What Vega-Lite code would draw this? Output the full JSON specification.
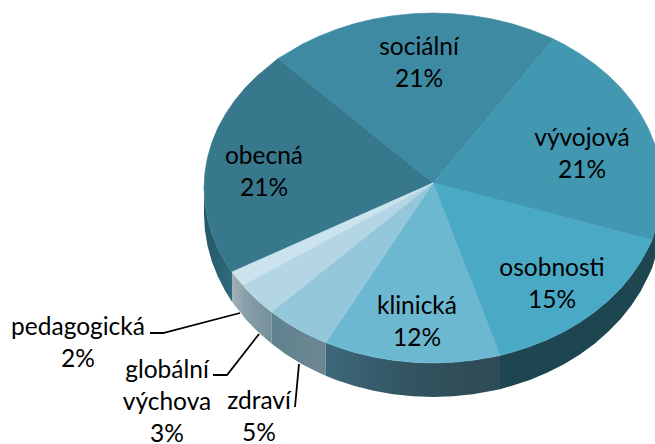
{"$schema":"https://vega.github.io/schema/vega-lite/v6.json","width":655,"height":444,"padding":0,"autosize":{"type":"none"},"background":"white","view":{"stroke":null},
"datasets":{
"wall":[
{"slice":"vývojová","x":229,"y":0,"y2":-26},{"slice":"vývojová","x":228.1,"y":-15.3,"y2":-42},{"slice":"vývojová","x":225.5,"y":-30.4,"y2":-57.8},{"slice":"vývojová","x":221.2,"y":-45.3,"y2":-73.3},{"slice":"vývojová","x":219,"y":-52,"y2":-80.3},
{"slice":"osobnosti","x":219,"y":-52,"y2":-80.3},{"slice":"osobnosti","x":215.2,"y":-59.9,"y2":-88.6},{"slice":"osobnosti","x":207.5,"y":-74,"y2":-103.4},{"slice":"osobnosti","x":198.3,"y":-87.5,"y2":-117.5},{"slice":"osobnosti","x":187.6,"y":-100.4,"y2":-131},{"slice":"osobnosti","x":175.4,"y":-112.5,"y2":-143.6},{"slice":"osobnosti","x":161.9,"y":-123.7,"y2":-155.4},{"slice":"osobnosti","x":147.2,"y":-134.1,"y2":-166.2},{"slice":"osobnosti","x":131.4,"y":-143.4,"y2":-176},{"slice":"osobnosti","x":114.5,"y":-151.6,"y2":-184.6},{"slice":"osobnosti","x":96.8,"y":-158.6,"y2":-191.9},{"slice":"osobnosti","x":78.3,"y":-164.4,"y2":-197.9},{"slice":"osobnosti","x":67,"y":-167.5,"y2":-201.3},
{"slice":"klinická","x":67,"y":-167.5,"y2":-201.3},{"slice":"klinická","x":59.3,"y":-169,"y2":-202.7},{"slice":"klinická","x":39.8,"y":-172.3,"y2":-206.2},{"slice":"klinická","x":20,"y":-174.3,"y2":-208.3},{"slice":"klinická","x":0,"y":-175,"y2":-209},{"slice":"klinická","x":-20,"y":-174.3,"y2":-208.3},{"slice":"klinická","x":-39.8,"y":-172.3,"y2":-206.2},{"slice":"klinická","x":-59.3,"y":-169,"y2":-202.7},{"slice":"klinická","x":-78.3,"y":-164.4,"y2":-197.9},{"slice":"klinická","x":-96.8,"y":-158.6,"y2":-191.9},{"slice":"klinická","x":-107.3,"y":-154.6,"y2":-187.7},
{"slice":"zdraví","x":-107.3,"y":-154.6,"y2":-187.7},{"slice":"zdraví","x":-114.5,"y":-151.6,"y2":-184.6},{"slice":"zdraví","x":-131.4,"y":-143.4,"y2":-176},{"slice":"zdraví","x":-147.2,"y":-134.1,"y2":-166.2},{"slice":"zdraví","x":-161.6,"y":-123.9,"y2":-155.6},
{"slice":"globální výchova","x":-161.6,"y":-123.9,"y2":-155.6},{"slice":"globální výchova","x":-175.4,"y":-112.5,"y2":-143.6},{"slice":"globální výchova","x":-187.6,"y":-100.4,"y2":-131},{"slice":"globální výchova","x":-190,"y":-97,"y2":-127.6},
{"slice":"pedagogická","x":-190,"y":-97,"y2":-127.6},{"slice":"pedagogická","x":-198.3,"y":-87.5,"y2":-117.5},{"slice":"pedagogická","x":-201,"y":-84,"y2":-113.8},
{"slice":"obecná","x":-201,"y":-84,"y2":-113.8},{"slice":"obecná","x":-207.5,"y":-74,"y2":-103.4},{"slice":"obecná","x":-215.2,"y":-59.9,"y2":-88.6},{"slice":"obecná","x":-221.2,"y":-45.3,"y2":-73.3},{"slice":"obecná","x":-225.5,"y":-30.4,"y2":-57.8},{"slice":"obecná","x":-228.1,"y":-15.3,"y2":-42},{"slice":"obecná","x":-229,"y":0,"y2":-26}
],
"top":[
{"slice":"obecná","seq":0,"x":0,"y":5},{"slice":"obecná","seq":1,"x":-201,"y":-84},{"slice":"obecná","seq":2,"x":-207.5,"y":-74},{"slice":"obecná","seq":3,"x":-215.2,"y":-59.9},{"slice":"obecná","seq":4,"x":-221.2,"y":-45.3},{"slice":"obecná","seq":5,"x":-225.5,"y":-30.4},{"slice":"obecná","seq":6,"x":-228.1,"y":-15.3},{"slice":"obecná","seq":7,"x":-229,"y":0},{"slice":"obecná","seq":8,"x":-228.1,"y":15.3},{"slice":"obecná","seq":9,"x":-225.5,"y":30.4},{"slice":"obecná","seq":10,"x":-221.2,"y":45.3},{"slice":"obecná","seq":11,"x":-215.2,"y":59.9},{"slice":"obecná","seq":12,"x":-207.5,"y":74},{"slice":"obecná","seq":13,"x":-198.3,"y":87.5},{"slice":"obecná","seq":14,"x":-187.6,"y":100.4},{"slice":"obecná","seq":15,"x":-175.4,"y":112.5},{"slice":"obecná","seq":16,"x":-161.9,"y":123.7},{"slice":"obecná","seq":17,"x":-155,"y":129.5},{"slice":"obecná","seq":18,"x":0,"y":5},
{"slice":"sociální","seq":0,"x":0,"y":5},{"slice":"sociální","seq":1,"x":-155,"y":129.5},{"slice":"sociální","seq":2,"x":-147.2,"y":134.1},{"slice":"sociální","seq":3,"x":-131.4,"y":143.4},{"slice":"sociální","seq":4,"x":-114.5,"y":151.6},{"slice":"sociální","seq":5,"x":-96.8,"y":158.6},{"slice":"sociální","seq":6,"x":-78.3,"y":164.4},{"slice":"sociální","seq":7,"x":-59.3,"y":169},{"slice":"sociální","seq":8,"x":-39.8,"y":172.3},{"slice":"sociální","seq":9,"x":-20,"y":174.3},{"slice":"sociální","seq":10,"x":0,"y":175},{"slice":"sociální","seq":11,"x":20,"y":174.3},{"slice":"sociální","seq":12,"x":39.8,"y":172.3},{"slice":"sociální","seq":13,"x":59.3,"y":169},{"slice":"sociální","seq":14,"x":78.3,"y":164.4},{"slice":"sociální","seq":15,"x":96.8,"y":158.6},{"slice":"sociální","seq":16,"x":114.5,"y":151.6},{"slice":"sociální","seq":17,"x":120.5,"y":149},{"slice":"sociální","seq":18,"x":0,"y":5},
{"slice":"vývojová","seq":0,"x":0,"y":5},{"slice":"vývojová","seq":1,"x":120.5,"y":149},{"slice":"vývojová","seq":2,"x":131.4,"y":143.4},{"slice":"vývojová","seq":3,"x":147.2,"y":134.1},{"slice":"vývojová","seq":4,"x":161.9,"y":123.7},{"slice":"vývojová","seq":5,"x":175.4,"y":112.5},{"slice":"vývojová","seq":6,"x":187.6,"y":100.4},{"slice":"vývojová","seq":7,"x":198.3,"y":87.5},{"slice":"vývojová","seq":8,"x":207.5,"y":74},{"slice":"vývojová","seq":9,"x":215.2,"y":59.9},{"slice":"vývojová","seq":10,"x":221.2,"y":45.3},{"slice":"vývojová","seq":11,"x":225.5,"y":30.4},{"slice":"vývojová","seq":12,"x":228.1,"y":15.3},{"slice":"vývojová","seq":13,"x":229,"y":0},{"slice":"vývojová","seq":14,"x":228.1,"y":-15.3},{"slice":"vývojová","seq":15,"x":225.5,"y":-30.4},{"slice":"vývojová","seq":16,"x":221.2,"y":-45.3},{"slice":"vývojová","seq":17,"x":219,"y":-52},{"slice":"vývojová","seq":18,"x":0,"y":5},
{"slice":"osobnosti","seq":0,"x":0,"y":5},{"slice":"osobnosti","seq":1,"x":219,"y":-52},{"slice":"osobnosti","seq":2,"x":215.2,"y":-59.9},{"slice":"osobnosti","seq":3,"x":207.5,"y":-74},{"slice":"osobnosti","seq":4,"x":198.3,"y":-87.5},{"slice":"osobnosti","seq":5,"x":187.6,"y":-100.4},{"slice":"osobnosti","seq":6,"x":175.4,"y":-112.5},{"slice":"osobnosti","seq":7,"x":161.9,"y":-123.7},{"slice":"osobnosti","seq":8,"x":147.2,"y":-134.1},{"slice":"osobnosti","seq":9,"x":131.4,"y":-143.4},{"slice":"osobnosti","seq":10,"x":114.5,"y":-151.6},{"slice":"osobnosti","seq":11,"x":96.8,"y":-158.6},{"slice":"osobnosti","seq":12,"x":78.3,"y":-164.4},{"slice":"osobnosti","seq":13,"x":67,"y":-167.5},{"slice":"osobnosti","seq":14,"x":0,"y":5},
{"slice":"klinická","seq":0,"x":0,"y":5},{"slice":"klinická","seq":1,"x":67,"y":-167.5},{"slice":"klinická","seq":2,"x":59.3,"y":-169},{"slice":"klinická","seq":3,"x":39.8,"y":-172.3},{"slice":"klinická","seq":4,"x":20,"y":-174.3},{"slice":"klinická","seq":5,"x":0,"y":-175},{"slice":"klinická","seq":6,"x":-20,"y":-174.3},{"slice":"klinická","seq":7,"x":-39.8,"y":-172.3},{"slice":"klinická","seq":8,"x":-59.3,"y":-169},{"slice":"klinická","seq":9,"x":-78.3,"y":-164.4},{"slice":"klinická","seq":10,"x":-96.8,"y":-158.6},{"slice":"klinická","seq":11,"x":-107.3,"y":-154.6},{"slice":"klinická","seq":12,"x":0,"y":5},
{"slice":"zdraví","seq":0,"x":0,"y":5},{"slice":"zdraví","seq":1,"x":-107.3,"y":-154.6},{"slice":"zdraví","seq":2,"x":-114.5,"y":-151.6},{"slice":"zdraví","seq":3,"x":-131.4,"y":-143.4},{"slice":"zdraví","seq":4,"x":-147.2,"y":-134.1},{"slice":"zdraví","seq":5,"x":-161.6,"y":-123.9},{"slice":"zdraví","seq":6,"x":0,"y":5},
{"slice":"globální výchova","seq":0,"x":0,"y":5},{"slice":"globální výchova","seq":1,"x":-161.6,"y":-123.9},{"slice":"globální výchova","seq":2,"x":-175.4,"y":-112.5},{"slice":"globální výchova","seq":3,"x":-187.6,"y":-100.4},{"slice":"globální výchova","seq":4,"x":-190,"y":-97},{"slice":"globální výchova","seq":5,"x":0,"y":5},
{"slice":"pedagogická","seq":0,"x":0,"y":5},{"slice":"pedagogická","seq":1,"x":-190,"y":-97},{"slice":"pedagogická","seq":2,"x":-198.3,"y":-87.5},{"slice":"pedagogická","seq":3,"x":-201,"y":-84},{"slice":"pedagogická","seq":4,"x":0,"y":5}
],
"leaders":[
{"slice":"pedagogická","seq":0,"x":-283,"y":-145},{"slice":"pedagogická","seq":1,"x":-270,"y":-145},{"slice":"pedagogická","seq":2,"x":-193,"y":-125},
{"slice":"globální výchova","seq":0,"x":-220,"y":-187},{"slice":"globální výchova","seq":1,"x":-206,"y":-187},{"slice":"globální výchova","seq":2,"x":-174,"y":-146},
{"slice":"zdraví","seq":0,"x":-138,"y":-219},{"slice":"zdraví","seq":1,"x":-134,"y":-176}
],
"labels":[
{"slice":"obecná","share":21,"label":["obecná","21%"],"x":-169,"y":31.5},
{"slice":"sociální","share":21,"label":["sociální","21%"],"x":-14,"y":140},
{"slice":"vývojová","share":21,"label":["vývojová","21%"],"x":149,"y":49},
{"slice":"osobnosti","share":15,"label":["osobnosti","15%"],"x":119,"y":-81},
{"slice":"klinická","share":12,"label":["klinická","12%"],"x":-16,"y":-118.5},
{"slice":"zdraví","share":5,"label":["zdraví","5%"],"x":-174,"y":-214},
{"slice":"globální výchova","share":3,"label":["globální","výchova","3%"],"x":-266,"y":-183},
{"slice":"pedagogická","share":2,"label":["pedagogická","2%"],"x":-355,"y":-140}
]},
"encoding":{
"x":{"field":"x","type":"quantitative","axis":null,"scale":{"domain":[-433,222]}},
"y":{"field":"y","type":"quantitative","axis":null,"scale":{"domain":[-256,188]}}
},
"layer":[
{"data":{"name":"wall"},"transform":[{"filter":"datum.slice==='obecná'"}],"mark":{"type":"area","clip":true,"fill":{"gradient":"linear","x1":0,"y1":0,"x2":1,"y2":0,"stops":[{"offset":0,"color":"#245868"},{"offset":1,"color":"#2F6B7E"}]}},"encoding":{"y2":{"field":"y2"}}},
{"data":{"name":"wall"},"transform":[{"filter":"datum.slice==='pedagogická'"}],"mark":{"type":"area","clip":true,"fill":{"gradient":"linear","x1":0,"y1":0,"x2":1,"y2":0,"stops":[{"offset":0,"color":"#A3B0B7"},{"offset":1,"color":"#90A3AC"}]}},"encoding":{"y2":{"field":"y2"}}},
{"data":{"name":"wall"},"transform":[{"filter":"datum.slice==='globální výchova'"}],"mark":{"type":"area","clip":true,"fill":{"gradient":"linear","x1":0,"y1":0,"x2":1,"y2":0,"stops":[{"offset":0,"color":"#8A9FAA"},{"offset":1,"color":"#74909C"}]}},"encoding":{"y2":{"field":"y2"}}},
{"data":{"name":"wall"},"transform":[{"filter":"datum.slice==='zdraví'"}],"mark":{"type":"area","clip":true,"fill":{"gradient":"linear","x1":0,"y1":0,"x2":1,"y2":0,"stops":[{"offset":0,"color":"#5E828F"},{"offset":1,"color":"#6E8791"}]}},"encoding":{"y2":{"field":"y2"}}},
{"data":{"name":"wall"},"transform":[{"filter":"datum.slice==='klinická'"}],"mark":{"type":"area","clip":true,"fill":{"gradient":"linear","x1":0,"y1":0,"x2":1,"y2":0,"stops":[{"offset":0,"color":"#3C687B"},{"offset":0.5,"color":"#32535F"},{"offset":1,"color":"#2E4A55"}]}},"encoding":{"y2":{"field":"y2"}}},
{"data":{"name":"wall"},"transform":[{"filter":"datum.slice==='osobnosti' || datum.slice==='vývojová'"}],"mark":{"type":"area","clip":true,"fill":"#1E4651"},"encoding":{"y2":{"field":"y2"}}},
{"data":{"name":"top"},"mark":{"type":"line","clip":true,"strokeWidth":0.6},"encoding":{
"order":{"field":"seq","type":"quantitative"},
"detail":{"field":"slice"},
"fill":{"field":"slice","type":"nominal","legend":null,"scale":{"domain":["obecná","sociální","vývojová","osobnosti","klinická","zdraví","globální výchova","pedagogická"],"range":["#37788C","#3D8AA2","#4298B0","#4AA9C5","#6DB8D1","#95C7DB","#B4D6E4","#CBE3ED"]}},
"stroke":{"field":"slice","type":"nominal","legend":null,"scale":{"domain":["obecná","sociální","vývojová","osobnosti","klinická","zdraví","globální výchova","pedagogická"],"range":["#37788C","#3D8AA2","#4298B0","#4AA9C5","#6DB8D1","#95C7DB","#B4D6E4","#CBE3ED"]}}
}},
{"data":{"name":"leaders"},"mark":{"type":"line","stroke":"#000000","strokeWidth":1.8},"encoding":{"order":{"field":"seq","type":"quantitative"},"detail":{"field":"slice"}}},
{"data":{"name":"labels"},"mark":{"type":"text","font":"Lato","fontSize":24.5,"lineHeight":32,"align":"center","baseline":"middle","fill":"#000000"},"encoding":{"text":{"field":"label"}}}
]}
